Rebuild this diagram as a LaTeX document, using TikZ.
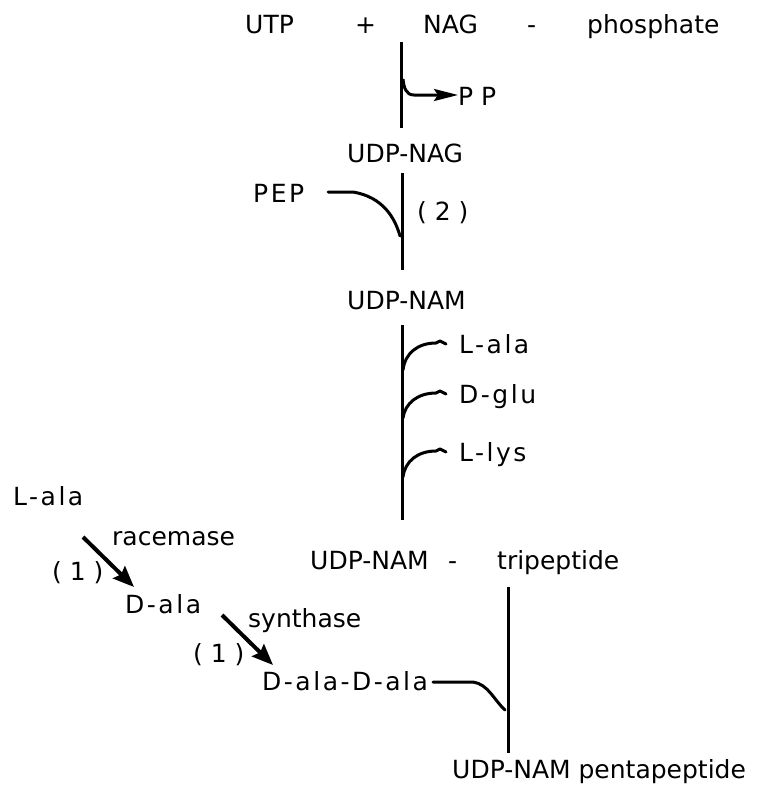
\documentclass[tikz,border=0pt]{standalone}
\usepackage{fontspec}
\setmainfont{DejaVu Sans}
\newfontfamily\spaced[LetterSpace=10]{DejaVu Sans}
\usetikzlibrary{arrows.meta}
\begin{document}
\begin{tikzpicture}[x=1pt,y=-1pt,
  lbl/.style={anchor=base west, inner sep=0pt, font=\fontsize{25}{30}\selectfont},
  slbl/.style={anchor=base west, inner sep=0pt, font=\spaced\fontsize{25}{30}\selectfont},
  rxn/.style={line width=3pt},
  bond/.style={line width=3pt, line cap=round, line join=round},
  release/.style={line width=3pt, line join=round, -{Stealth[length=24pt,width=12pt,inset=4pt]}},
  fat/.style={line width=4pt, -{Stealth[length=21pt,width=17pt,inset=3pt]}}]
\useasboundingbox (0,0) rectangle (758,798);

% --- substrates
\node[lbl] (utp) at (245,33) {UTP};
\node[lbl] (plus) at (355,33) {+};
\node[lbl] (nag) at (423,33) {NAG};
\node[lbl] (dash1) at (527,33) {-};
\node[lbl] (phos) at (587,33) {phosphate};

% --- step to UDP-NAG, releasing pyrophosphate
\coordinate (v1a) at (401,42);
\coordinate (v1b) at (401,128);
\draw[rxn] (v1a) -- (v1b);
\node[lbl] (pp) at (458,105) {P P};
\coordinate (pphook) at (403,79);
\coordinate (ppin) at (pp.west |- 0,95);
\draw[release] (pphook) .. controls (404,88) and (406,95) .. (414,95) -- (ppin);

\node[lbl] (udpnag) at (347,162) {UDP-NAG};

% --- step (2): PEP added
\coordinate (v2a) at (402,173);
\coordinate (v2b) at (402,270);
\draw[rxn] (v2a) -- (v2b);
\node[slbl] (pep) at (253,202) {PEP};
\node[lbl] (two) at (417,220) {( 2 )};
\coordinate (pepin) at (328,192);
\coordinate (pepjoin) at (400,236);
\draw[bond] (pepin) -- (353,192) .. controls (383,197) and (395,218) .. (pepjoin);

\node[lbl] (udpnam) at (347,309) {UDP-NAM};

% --- amino acids added one after another
\coordinate (v3a) at (402,325);
\coordinate (v3b) at (402,520);
\draw[rxn] (v3a) -- (v3b);
\node[slbl] (lala) at (459,353) {L-ala};
\node[slbl] (dglu) at (459,403) {D-glu};
\node[slbl] (llys) at (459,461) {L-lys};
\foreach \yb/\yt/\n in {370/343/lala, 418/393/dglu, 477/451/llys}{
  \draw[bond] (403,\yb) .. controls (405,\yt+10) and (418,\yt) .. (436,\yt)
     -- (440,\yt-2) -- (446,\yt+1);
}

\node[lbl] (udptri) at (310,569) {UDP-NAM};
\node[lbl] (dash2) at (448,569) {-};
\node[lbl] (tri) at (497,569) {tripeptide};

% --- alanine branch: racemase and synthase steps (1)
\node[slbl] (lala2) at (13,505) {L-ala};
\node[lbl] (race) at (112,545) {racemase};
\node[lbl] (one1) at (52,580) {( 1 )};
\coordinate (ra) at (83,537);
\coordinate (rb) at (134,587);
\draw[fat] (ra) -- (rb);
\node[slbl] (dala) at (125,613) {D-ala};
\node[lbl] (synth) at (248,627) {synthase};
\node[lbl] (one2) at (193,662) {( 1 )};
\coordinate (sa) at (222,615);
\coordinate (sb) at (273,665);
\draw[fat] (sa) -- (sb);
\node[slbl] (dd) at (262,690) {D-ala-D-ala};

% --- dipeptide added to the tripeptide
\coordinate (v4a) at (508,587);
\coordinate (v4b) at (508,753);
\draw[rxn] (v4a) -- (v4b);
\coordinate (ddin) at (433,682);
\coordinate (ddjoin) at (505,710);
\draw[bond] (ddin) -- (473,682) .. controls (488,684) and (494,700) .. (ddjoin);

\node[lbl] (penta) at (452,778) {UDP-NAM pentapeptide};
\end{tikzpicture}
\end{document}
